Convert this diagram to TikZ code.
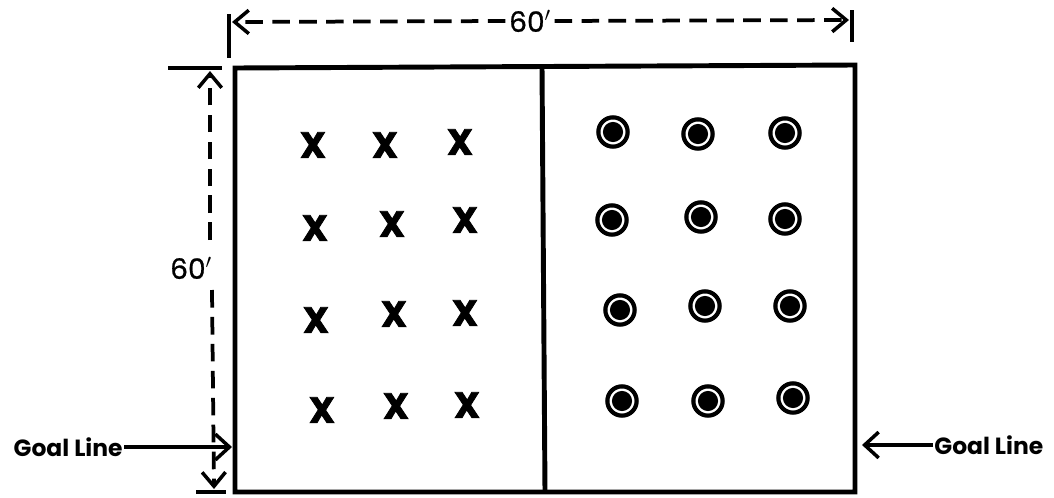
\documentclass[tikz,border=0pt]{standalone}
\usepackage{fontspec}
\setmainfont{Poppins}
\newfontfamily\heavyfont[BoldFeatures={FakeBold=2}]{Poppins}
\newfontfamily\medfont[UprightFeatures={FakeBold=0.8}]{Poppins}
\usetikzlibrary{arrows.meta}
\begin{document}
\begin{tikzpicture}[x=0.03cm,y=-0.03cm,
  field/.style={line width=4.2pt},
  tick/.style={line width=3pt},
  dim/.style={line width=3.2pt,dash pattern=on 15pt off 8pt},
  tip/.style={-{Straight Barb[length=12pt,width=20pt,line width=3pt]}},
  lbl/.style={font=\medfont\fontsize{24}{27}\selectfont, inner sep=3pt},
  goal/.style={font=\fontsize{20}{23}\selectfont\bfseries, inner sep=1pt},
  xm/.style={font=\heavyfont\fontsize{31}{34}\selectfont\bfseries, inner sep=0pt},
  om/.style={circle, draw, line width=3.6pt, minimum size=25pt, inner sep=0pt,
    path picture={\fill (path picture bounding box.center) circle (8.6pt);}}]
\useasboundingbox (0,0) rectangle (1054,497);
% field
\coordinate (TL) at (235,68);
\coordinate (TR) at (855,65);
\coordinate (BR) at (855,492);
\coordinate (BL) at (235,492);
\coordinate (MT) at (542,66);
\coordinate (MB) at (545,492);
\draw[field, line join=miter] (TL) -- (TR) -- (BR) -- (BL) -- cycle;
\draw[field] (MT) -- (MB);
% top dimension
\coordinate (tA1) at (229,14); \coordinate (tA2) at (229,58);
\coordinate (tB1) at (852,10); \coordinate (tB2) at (852,42);
\draw[tick] (tA1) -- (tA2);
\draw[tick] (tB1) -- (tB2);
\node[lbl] (t60) at (530,21) {60$'$};
\coordinate (tL) at (232,22);
\coordinate (tR) at (849,20);
\draw[dim,tip] (t60.west) -- (tL);
\draw[dim,tip] (t60.east) -- (tR);
% left dimension
\coordinate (lA1) at (168,68); \coordinate (lA2) at (222,68);
\coordinate (lB1) at (196,492); \coordinate (lB2) at (226,492);
\draw[tick] (lA1) -- (lA2);
\draw[tick] (lB1) -- (lB2);
\node[lbl] (l60) at (191,268) {60$'$};
\coordinate (lT) at (210,71);
\coordinate (lB) at (214,489);
\coordinate (lTs) at (210,240);
\coordinate (lBs) at (212,290);
\draw[dim,tip] (lTs) -- (lT);
\draw[dim,tip] (lBs) -- (lB);
% goal lines
\node[goal, anchor=east] (gl) at (124,447) {Goal Line};
\coordinate (glT) at (232,447);
\draw[line width=3pt, -{Straight Barb[length=12pt,width=22pt,line width=3pt]}] (gl.east) -- (glT);
\node[goal, anchor=west] (gr) at (933,445) {Goal Line};
\coordinate (grT) at (862,445);
\draw[line width=3pt, -{Straight Barb[length=12pt,width=22pt,line width=3pt]}] (gr.west) -- (grT);
% X players
\foreach \n/\x/\y in {a1/313/145,a2/385/145,a3/460/142,
                      b1/315/228,b2/392/224,b3/465/220,
                      c1/316/320,c2/394/314,c3/465/313,
                      d1/322/410,d2/396/406,d3/467/405}
  \node[xm] (x\n) at (\x,\y) {X};
% O players
\foreach \n/\x/\y in {a1/613/132,a2/698/134,a3/785/133,
                      b1/612/220,b2/701/217,b3/785/219,
                      c1/620/310,c2/705/306,c3/790/306,
                      d1/622/401,d2/708/401,d3/793/398}
  \node[om] (o\n) at (\x,\y) {};
\end{tikzpicture}
\end{document}
